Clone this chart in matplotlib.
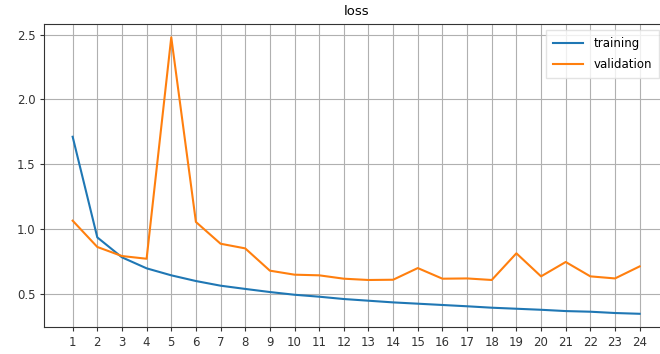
import numpy as np
import matplotlib.pyplot as plt

# epoch numbers and loss values
epochs = list(range(1, 25))
training = [1.712, 0.935, 0.781, 0.696, 0.642, 0.598, 0.562, 0.537, 0.513, 0.492,
            0.477, 0.459, 0.446, 0.433, 0.423, 0.413, 0.403, 0.392, 0.384, 0.376,
            0.366, 0.361, 0.351, 0.345]
validation = [1.064, 0.861, 0.791, 0.770, 2.480, 1.054, 0.886, 0.850, 0.678, 0.647,
              0.642, 0.616, 0.606, 0.608, 0.698, 0.616, 0.618, 0.606, 0.812, 0.634,
              0.745, 0.634, 0.618, 0.711]

plt.rcParams['font.family'] = ['DejaVu Sans']
plt.rcParams['font.size'] = 8.5

fig = plt.figure(figsize=(6.6, 3.54), dpi=100)
# axes runs past the right edge of the figure, like the cropped original
ax = fig.add_axes([44.3 / 660, 27 / 354, (668 - 44.3) / 660, (327 - 23.7) / 354])

ax.plot(epochs, training, color='#1f77b4', lw=1.5, label='training')
ax.plot(epochs, validation, color='#ff7f0e', lw=1.5, label='validation')

ax.set_xlim(-0.15, 25.15)
ax.set_ylim(0.243, 2.585)
ax.set_xticks(epochs)
ax.set_yticks([0.5, 1.0, 1.5, 2.0, 2.5])
ax.grid(True, color='#b0b0b0', lw=0.8)
ax.set_axisbelow(True)
for s in ax.spines.values():
    s.set_color('#333333')
ax.tick_params(colors='#333333', length=3)
ax.set_title('loss', fontsize=9.5, pad=6)
ax.legend(loc='upper right', bbox_to_anchor=(659 / 660, 1 - 30 / 354), bbox_transform=fig.transFigure,
          fontsize=8.5, frameon=True, fancybox=False, edgecolor='#dddddd',
          handlelength=2.5, handletextpad=0.9, labelspacing=0.65, borderpad=0.6,
          borderaxespad=0)

fig.savefig('out.png', dpi=100)
